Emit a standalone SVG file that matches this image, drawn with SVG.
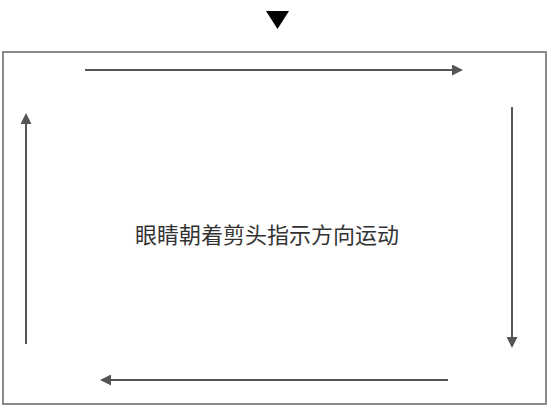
<svg xmlns="http://www.w3.org/2000/svg" width="555" height="415" viewBox="0 0 555 415">
  <style>
    .frame { fill: #ffffff; stroke: #8a8a8a; stroke-width: 2; }
    .conn { stroke: #555555; stroke-width: 2; fill: none; }
    .label { font-family: "Noto Sans CJK SC", "Noto Sans", sans-serif; font-size: 22px; fill: #333333; }
  </style>
  <defs>
    <marker id="ah" viewBox="0 0 10 10" refX="0" refY="5" markerUnits="userSpaceOnUse" markerWidth="11" markerHeight="11" orient="auto">
      <path d="M0,0 L10,5 L0,10 Z" fill="#555555"/>
    </marker>
  </defs>
  <rect width="555" height="415" fill="#ffffff"/>
  <g id="pointer">
    <polygon points="266,11 289,11 277.5,29" fill="#000000"/>
  </g>
  <g id="frame">
    <rect class="frame" x="3" y="52" width="543" height="352"/>
  </g>
  <g id="label">
    <text class="label" x="267" y="243" text-anchor="middle">眼睛朝着剪头指示方向运动</text>
  </g>
  <g id="connectors">
    <line class="conn" x1="85" y1="70" x2="452" y2="70" marker-end="url(#ah)"/>
    <line class="conn" x1="512" y1="107" x2="512" y2="337" marker-end="url(#ah)"/>
    <line class="conn" x1="448" y1="380" x2="111" y2="380" marker-end="url(#ah)"/>
    <line class="conn" x1="26" y1="344" x2="26" y2="124" marker-end="url(#ah)"/>
  </g>
</svg>
